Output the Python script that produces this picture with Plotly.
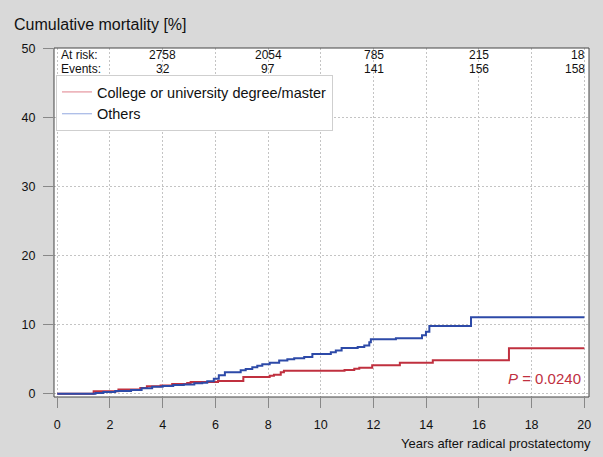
import plotly.graph_objects as go

# ---- data ----
red_t = [0, 1.38, 2.32, 3.15, 3.4, 3.92, 4.36, 4.93, 5.06, 6.1, 7.06, 8.06, 8.22, 8.48, 8.6,
         10.9, 11.27, 11.46, 11.95, 13.0, 14.25, 17.14, 20]
red_v = [0, 0.34, 0.6, 0.82, 1.07, 1.2, 1.4, 1.55, 1.7, 1.85, 2.42, 2.6, 2.76, 3.1, 3.34,
         3.44, 3.63, 3.78, 4.12, 4.5, 4.84, 6.59, 6.59]

blue_t = [0, 1.45, 1.75, 2.2, 2.8, 3.2, 3.6, 4.0, 4.4, 4.8, 5.2, 5.5, 5.69, 5.94, 6.13, 6.36,
          6.96, 7.15, 7.4, 7.59, 7.78, 8.06, 8.42, 8.73, 8.99, 9.37, 9.68, 10.38, 10.57, 10.79,
          11.4, 11.65, 11.84, 11.9, 12.85, 13.84, 13.99, 14.12, 15.7, 20]
blue_v = [0, 0.1, 0.25, 0.4, 0.55, 0.8, 1.0, 1.1, 1.25, 1.35, 1.5, 1.6, 1.8, 2.18, 2.66, 3.1,
          3.4, 3.59, 3.83, 4.07, 4.26, 4.5, 4.8, 4.99, 5.13, 5.33, 5.77, 6.0, 6.25, 6.64,
          6.79, 6.98, 7.46, 7.9, 8.04, 8.48, 9.0, 9.83, 11.09, 11.09]

risk_times = [4, 8, 12, 16, 20]
at_risk = ["2758", "2054", "785", "215", "18"]
events = ["32", "97", "141", "156", "158"]

series_names = ["College or university degree/master", "Others"]
p_text = "<i>P</i> = 0.0240"

RED = "#c0303f"
BLUE = "#2d4aa8"
FONT = "Liberation Sans, Arial, sans-serif"

fig = go.Figure()
fig.add_trace(go.Scatter(x=red_t, y=red_v, mode="lines", line=dict(color=RED, width=2, shape="hv"),
                         showlegend=False, hoverinfo="skip"))
fig.add_trace(go.Scatter(x=blue_t, y=blue_v, mode="lines", line=dict(color=BLUE, width=2, shape="hv"),
                         showlegend=False, hoverinfo="skip"))
# legend entries (lighter, thin samples)
fig.add_trace(go.Scatter(x=[None], y=[None], mode="lines", name=series_names[0],
                         line=dict(color="#e0808c", width=1)))
fig.add_trace(go.Scatter(x=[None], y=[None], mode="lines", name=series_names[1],
                         line=dict(color="#93a8e0", width=1)))

W, H = 603, 457
L, R, T, B = 54, 12, 48, 60
pw, ph = W - L - R, H - T - B

def px(xp):
    return (xp - L) / pw

def py(yp):
    return (H - B - yp) / ph

ann = []
ann.append(dict(text="Cumulative mortality [%]", x=px(12), y=py(25), xref="paper", yref="paper",
                xanchor="left", yanchor="middle", showarrow=False, font=dict(size=16, color="#111")))
ann.append(dict(text="At risk:", x=px(59), y=py(55), xref="paper", yref="paper",
                xanchor="left", yanchor="middle", showarrow=False, font=dict(size=12, color="#111")))
ann.append(dict(text="Events:", x=px(59), y=py(68.5), xref="paper", yref="paper",
                xanchor="left", yanchor="middle", showarrow=False, font=dict(size=12, color="#111")))
for i, (t, a, e) in enumerate(zip(risk_times, at_risk, events)):
    last = i == len(risk_times) - 1
    for txt, yy in ((a, 55), (e, 68.5)):
        ann.append(dict(text=txt, x=t, y=py(yy), xref="x", yref="paper",
                        xanchor="right" if last else "center", xshift=3 if last else 0,
                        yanchor="middle", showarrow=False, font=dict(size=12, color="#111")))
ann.append(dict(text=p_text, x=px(585), y=py(378), xref="paper", yref="paper",
                xanchor="right", yanchor="middle", showarrow=False, font=dict(size=15, color=RED)))
ann.append(dict(text="Years after radical prostatectomy", x=px(595), y=py(443), xref="paper", yref="paper",
                xanchor="right", yanchor="middle", showarrow=False, font=dict(size=13, color="#111")))

fig.update_layout(
    width=W, height=H,
    margin=dict(l=L, r=R, t=T, b=B),
    paper_bgcolor="#d9d9d9",
    plot_bgcolor="white",
    font=dict(family=FONT, size=12, color="#111"),
    annotations=ann,
    legend=dict(x=px(56), y=py(75), xanchor="left", yanchor="top", bgcolor="white",
                bordercolor="#cfcfcf", borderwidth=1, font=dict(size=14.5, color="#111"),
                tracegroupgap=0, itemwidth=30),
    shapes=[dict(type="rect", xref="paper", yref="paper", x0=0, x1=1, y0=0, y1=1,
                 line=dict(color="#444", width=1), layer="above")],
    xaxis=dict(range=[(L - 57.3) / 26.45, (W - R - 57.3) / 26.45], tickvals=list(range(0, 21, 2)),
               showgrid=True, gridcolor="#c4c4c4", griddash="2px,2px", gridwidth=1,
               zeroline=False, showline=False, ticks="outside", ticklen=10, tickcolor="#888",
               tickfont=dict(size=12.5), ticklabelstandoff=6, fixedrange=True),
    yaxis=dict(range=[-0.48, 50.14], tickvals=list(range(0, 51, 10)),
               showgrid=True, gridcolor="#c4c4c4", griddash="2px,2px", gridwidth=1,
               zeroline=False, showline=False, ticks="outside", ticklen=10, tickcolor="#888",
               tickfont=dict(size=12.5), ticklabelstandoff=5, fixedrange=True),
)

fig.write_html("out.html", config={"displayModeBar": False},
               post_script="document.body.style.margin='0';document.body.style.overflow='hidden';")
